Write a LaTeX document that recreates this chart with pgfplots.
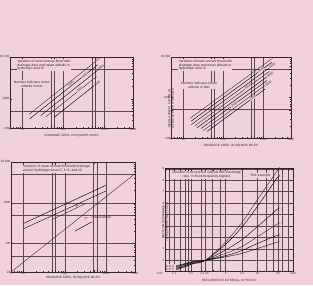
\documentclass[border=0pt]{standalone}
\usepackage{fontspec}
\setmainfont{Liberation Sans}
\usepackage{pgfplots}
\pgfplotsset{compat=1.18}
\definecolor{bgpink}{RGB}{242,210,218}
\definecolor{ink}{RGB}{50,38,44}
\definecolor{gridc}{RGB}{90,74,80}
\newcommand{\fs}{\fontsize{3.1}{3.5}\selectfont}
\newcommand{\ft}{\fontsize{3.4}{3.9}\selectfont}
\tikzset{
  lab/.style={font=\fs, text=ink, inner sep=0.3pt},
  note/.style={font=\ft, text=ink, fill=bgpink, align=left, inner sep=0.6pt},
}
\pgfplotsset{
  panel/.style={
    scale only axis, anchor=south west,
    axis line style={ink, line width=0.5pt},
    every tick/.style={ink, line width=0.3pt},
    major tick length=1.8pt, minor tick length=1pt,
    tick align=inside,
    ticklabel style={font=\fs, text=ink, inner sep=0.5pt},
    /pgf/number format/assume math mode=true,
    xlabel style={font=\fs, text=ink, at={(axis description cs:0.5,0)}, anchor=center, inner sep=0pt},
    ylabel style={font=\fs, text=ink, align=center, inner sep=0pt},
    axis background/.style={fill=bgpink},
    extra x tick labels={}, extra y tick labels={},
    extra tick style={grid=major, major grid style={gridc, line width=0.4pt}},
    cycle list={{ink, line width=0.45pt, mark=none}},
  },
  logpanel/.style={
    panel, xmin=5, xmax=5000,
    xtick={5,10,100,1000,5000}, xticklabels={5,10,100,1000,5000},
    minor xtick={6,7,8,9,20,30,40,50,60,70,80,90,200,300,400,500,600,700,800,900,2000,3000,4000},
    minor ytick={30,40,50,60,70,80,90,200,300,400,500,600,700,800,900,2000,3000,4000,5000,6000,7000,8000,9000},
    extra x ticks={10,50,60,100,500,600,1000},
    xlabel={DRAINAGE AREA, IN SQUARE MILES},
  },
}
\begin{document}
\begin{tikzpicture}
\useasboundingbox (0,0) rectangle (313pt,285pt);
\fill[bgpink] (0,0) rectangle (313pt,285pt);

% ---------------- Panel 1 (top left)
\begin{axis}[xmode=log, ymode=log, logpanel, at={(10pt,157pt)}, width=123pt, height=71pt,
  ymin=200, ymax=10000,
  ytick={200,1000,10000}, yticklabels={200,1000,{10,000}},
  extra y ticks={500,5000},
  xlabel style={yshift=-8pt}]
\addplot coordinates {(15,434) (590,7600)};
\addplot coordinates {(15,329) (690,6520)};
\addplot coordinates {(28,397) (690,4830)};
\addplot coordinates {(38,374) (650,3420)};
\addplot coordinates {(60,360) (560,2060)};
\node[lab, rotate=38, anchor=west] at (axis cs:590,7600) {5000};
\node[lab, rotate=38, fill=bgpink] at (axis cs:330,3650) {4000};
\node[lab, rotate=38, anchor=west] at (axis cs:690,4830) {3000};
\node[lab, rotate=38, fill=bgpink] at (axis cs:250,1620) {2000};
\node[lab, rotate=38, anchor=west] at (axis cs:560,2060) {1000};
\node[lab, rotate=38, fill=bgpink] at (axis cs:150,2300) {6000};
\node[note, anchor=north west] at (axis cs:7.2,9000) {Variation of mean annual flood with\\drainage area and mean altitude in\\hydrologic area III};
\node[note, align=center] at (axis cs:17,2260) {Number indicates mean\\altitude in feet};
\end{axis}

% ---------------- Panel 2 (top right)
\begin{axis}[xmode=log, ymode=log, logpanel, at={(171pt,147pt)}, width=120pt, height=81pt,
  ymin=100, ymax=10000,
  ytick={100,1000,10000}, yticklabels={100,1000,{10,000}},
  extra y ticks={500,5000},
  xlabel style={yshift=-8pt},
  ylabel={MEAN ANNUAL FLOOD, IN\\CUBIC FEET PER SECOND},
  ylabel style={at={(axis description cs:0,0.5)}, anchor=center, xshift=-11pt}]
\addplot coordinates {(14.8,303) (1622,8940)};
\addplot coordinates {(15.8,259) (1660,7390)};
\addplot coordinates {(15.8,211) (1413,5350)};
\addplot coordinates {(20,202) (1445,4420)};
\addplot coordinates {(22.4,179) (1259,3250)};
\addplot coordinates {(28.2,171) (1259,2640)};
\addplot coordinates {(31.6,151) (1122,1980)};
\addplot coordinates {(39.8,145) (1122,1610)};
\node[lab, rotate=36, anchor=west] at (axis cs:1622,8940) {5000};
\node[lab, rotate=36, fill=bgpink] at (axis cs:900,4770) {4500};
\node[lab, rotate=36, anchor=west] at (axis cs:1413,5350) {4000};
\node[lab, rotate=36, fill=bgpink] at (axis cs:420,1810) {3500};
\node[lab, rotate=36, anchor=west] at (axis cs:1259,3250) {3000};
\node[lab, rotate=36, fill=bgpink] at (axis cs:190,680) {2500};
\node[lab, rotate=36, anchor=west] at (axis cs:1122,1980) {2000};
\node[lab, rotate=36, fill=bgpink] at (axis cs:560,975) {1500};
\node[note, anchor=north west] at (axis cs:7.5,9000) {Variation of mean annual flood with\\drainage area and mean altitude in\\hydrologic area IV};
\node[note, align=center] at (axis cs:25,2000) {Number indicates mean\\altitude in feet};
\end{axis}

% ---------------- Panel 3 (bottom left)
\begin{axis}[xmode=log, ymode=log, logpanel, at={(11pt,13pt)}, width=124pt, height=110pt,
  ymin=20, ymax=10000,
  ytick={20,100,1000,10000}, yticklabels={20,100,1000,{10,000}},
  extra y ticks={50,100,500,1000,5000},
  xlabel style={yshift=-6pt}]
\addplot coordinates {(5,20) (5000,5150)};
\addplot coordinates {(10,310) (1000,2700)};
\addplot coordinates {(10,230) (1000,1950)};
\addplot coordinates {(50,390) (310,940)};
\addplot coordinates {(175,200) (450,340)};
\node[lab, rotate=25] at (axis cs:120,1000) {$\succ$};
\node[lab, rotate=25] at (axis cs:200,830) {$\succ$};
\node[lab, rotate=25] at (axis cs:330,420) {$\succ$};
\node[font=\ft, text=ink, anchor=west, inner sep=0.5pt] at (axis cs:420,420) {Test example};
\node[note, anchor=north west] at (axis cs:9.3,8700) {Variation of mean annual flood with drainage\\area in hydrologic areas 5, 6, 8, and 10};
\end{axis}

% ---------------- Panel 4 (bottom right)
\begin{axis}[panel, at={(165pt,13.3pt)}, width=128pt, height=103pt, clip=false,
  xmin=-1.29, xmax=4.60, ymin=0, ymax=9,
  xtick={-0.8746,-0.094,0.3665,0.5785,1.4999,2.2504,2.9702,3.9019,4.6001},
  xticklabels={1.1,1.5,2,2.33,5,10,20,50,100},
  ytick={1,2,3,4,5,6,7,8,9},
  ymajorgrids, major grid style={gridc, line width=0.4pt},
  extra x ticks={-1.1133,-0.8746,-0.5832,-0.3828,-0.2254,-0.094,0.3665,0.5785,0.9027,1.2459,1.4999,2.2504,2.9702,3.3843,3.6762,3.9019,4.0859,4.3758},
  xlabel={RECURRENCE INTERVAL, IN YEARS}, xlabel style={yshift=-8.5pt},
  ylabel={RATIO OF DISCHARGE\\TO MEAN ANNUAL FLOOD},
  ylabel style={at={(axis description cs:0,0.6)}, anchor=center, xshift=-12pt}]
\addplot+[smooth] coordinates {(-0.78,0.15) (-0.4,0.4) (0,0.68) (0.5785,1) (1.5,2.6) (2.25,4.3) (3.0,6.4) (3.90,8.9)} node[lab, pos=1, anchor=south west] {A};
\addplot+[smooth] coordinates {(-0.78,0.22) (-0.4,0.45) (0,0.72) (0.5785,1) (1.5,2.4) (2.25,3.9) (3.0,5.8) (3.90,8.3)} node[lab, pos=1, anchor=west] {B};
\addplot+[smooth] coordinates {(-0.78,0.30) (-0.4,0.52) (0,0.78) (0.5785,1) (1.5,1.9) (2.25,2.8) (3.0,4.0) (3.90,5.5)} node[lab, pos=1, anchor=west] {C};
\addplot+[smooth] coordinates {(-0.78,0.38) (-0.4,0.58) (0,0.82) (0.5785,1) (1.5,1.6) (2.25,2.2) (3.0,3.1) (3.90,4.2)} node[lab, pos=1, anchor=west] {D};
\addplot+[smooth] coordinates {(-0.78,0.45) (-0.4,0.64) (0,0.86) (0.5785,1) (1.5,1.4) (2.25,1.85) (3.0,2.5) (3.90,3.2)} node[lab, pos=1, anchor=west] {E};
\addplot+[smooth] coordinates {(-0.78,0.52) (-0.4,0.7) (0,0.9) (0.5785,1) (1.5,1.3) (2.25,1.6) (3.0,2.05) (3.90,2.6)} node[lab, pos=1, anchor=west] {F};
\node[font=\fs, text=ink, anchor=north, inner sep=0.5pt] at (axis cs:-1.529,0) {1.01};
\node[note, align=center] at (axis cs:0.62,8.45) {Variation of recurrence interval with discharge\\ratio, in flood-frequency regions};
\node[note, anchor=east] at (axis cs:3.6,8.4) {Test example};
\node[font=\fs, text=ink, fill=bgpink, align=left, inner sep=0.4pt, anchor=south west] at (axis cs:-1.26,0.05) {A B C\\D E F};
\end{axis}
\end{tikzpicture}
\end{document}
